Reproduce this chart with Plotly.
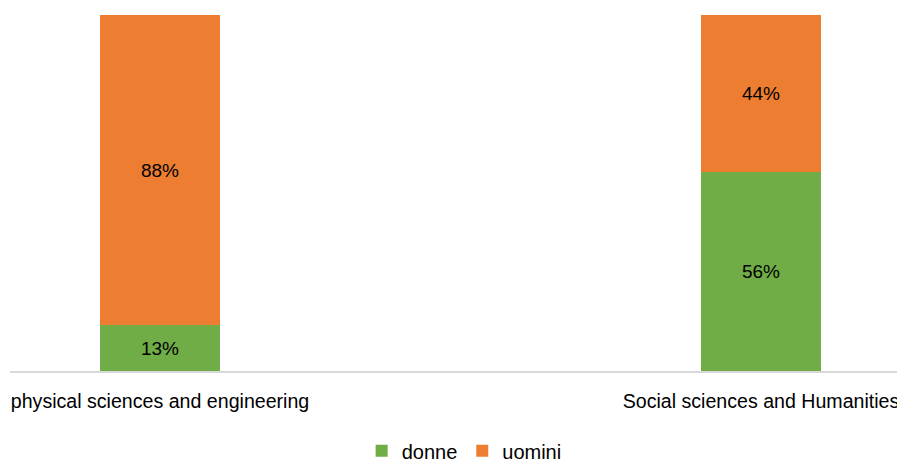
import plotly.graph_objects as go

categories = ["physical sciences and engineering", "Social sciences and Humanities"]
donne = [13, 56]
uomini = [88, 44]

FONT = "Liberation Sans, Arial, sans-serif"
x = [0, 1]

fig = go.Figure()
fig.add_trace(go.Bar(
    x=x, y=donne, name="donne", marker=dict(color="#70AD47", line=dict(width=0)),
    text=[f"{v}%" for v in donne], textposition="inside", insidetextanchor="middle",
    textfont=dict(family=FONT, size=19, color="#000000"), width=0.2,
))
fig.add_trace(go.Bar(
    x=x, y=uomini, name="uomini", marker=dict(color="#ED7D31", line=dict(width=0)),
    text=[f"{v}%" for v in uomini], textposition="inside", insidetextanchor="middle",
    textfont=dict(family=FONT, size=19, color="#000000"), width=0.2,
))

fig.update_layout(
    barmode="stack", barnorm="percent",
    width=897, height=461,
    margin=dict(l=10, r=0, t=14.5, b=90.3, autoexpand=False),
    paper_bgcolor="white", plot_bgcolor="white",
    font=dict(family=FONT, size=20, color="#000000"),
    showlegend=True,
    legend=dict(orientation="h", x=0.512, xanchor="center", y=-0.224, yanchor="middle",
                font=dict(family=FONT, size=20), traceorder="normal",
                bgcolor="rgba(0,0,0,0)"),
    xaxis=dict(range=[-0.2496, 1.2263], tickvals=x, ticktext=categories,
               showline=True, linecolor="#D9D9D9", linewidth=1.5, showgrid=False,
               zeroline=False, ticks="", ticklabelstandoff=12, ticklabeloverflow="allow",
               tickfont=dict(family=FONT, size=19.6)),
    yaxis=dict(range=[0, 100], visible=False, showgrid=False, zeroline=False),
)
fig.write_html("out.html")
